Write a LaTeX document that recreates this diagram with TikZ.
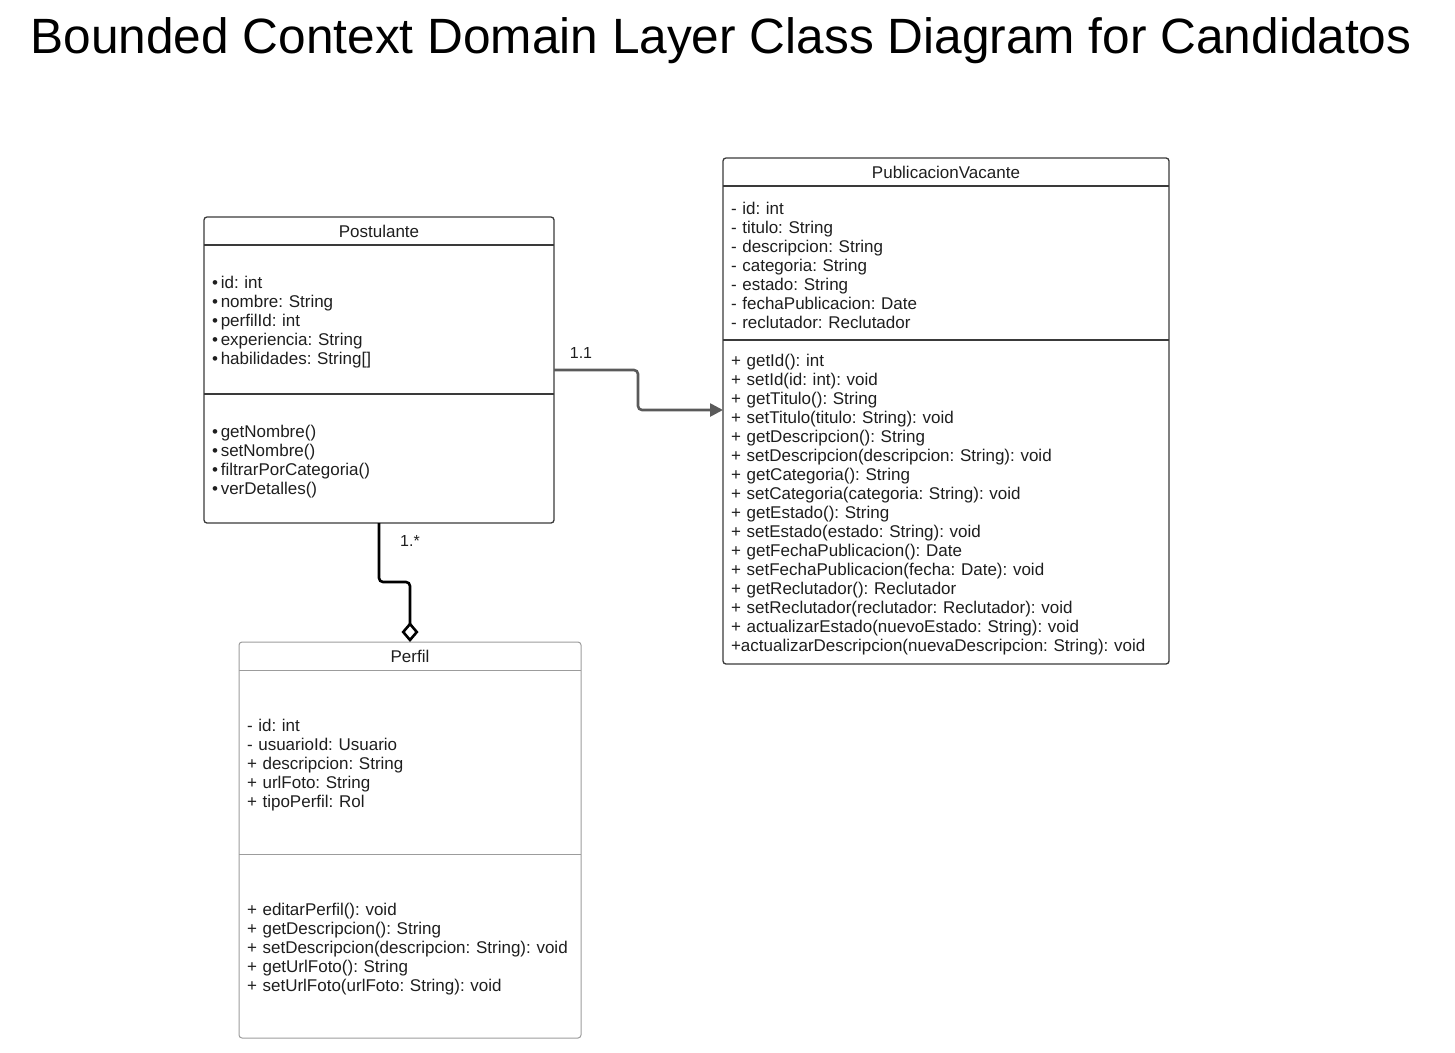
\documentclass[tikz,border=0pt]{standalone}
\usepackage{fontspec}
\setmainfont{Liberation Sans}
\usepackage{xcolor}
\usetikzlibrary{positioning,arrows.meta}
\definecolor{ink}{HTML}{1E1E1E}
\definecolor{darkline}{HTML}{3A3A3A}
\definecolor{lightline}{HTML}{9C9C9C}
\definecolor{linkgray}{HTML}{5A5A5A}
\frenchspacing

\begin{document}
\begin{tikzpicture}[x=1pt, y=-1pt,
      cls/.style={outer sep=0pt, inner xsep=8pt, inner ysep=0pt, text=ink, font=\fontsize{17}{19}\selectfont},
      head/.style={cls, align=center, minimum height=28pt},
      part/.style={cls, align=left, execute at begin node={\rule{0pt}{18pt}}},
      frame/.style={draw=#1, line width=1.3pt, rounded corners=3pt},
      divider/.style={draw=#1, line width=1.3pt},
      thin/.style={line width=1pt},
      assoc/.style={draw=linkgray, line width=2.6pt, rounded corners=4pt, -{Triangle[length=13pt, width=13pt]}},
      agg/.style={draw=black, line width=2.6pt, rounded corners=4pt, -{Diamond[open, length=20pt, width=17pt]}},
      mult/.style={text=ink, font=\fontsize{16}{18}\selectfont}
    ]
    \useasboundingbox (0,0) rectangle (1455,1052);
    \node[text=black, font=\fontsize{49.6}{56}\selectfont] (title) at (721,41) {Bounded Context Domain Layer Class Diagram for Candidatos};

    % Postulante
    \node[head, text width=334pt] (post) at (379,231) {Postulante};
    \node[part, text width=334pt, minimum height=149pt, below=0pt of post] (postattr) {\textbullet\,id: int\\\textbullet\,nombre: String\\\textbullet\,perfilId: int\\\textbullet\,experiencia: String\\\textbullet\,habilidades: String[]};
    \node[part, text width=334pt, minimum height=129pt, below=0pt of postattr] (postops) {\textbullet\,getNombre()\\\textbullet\,setNombre()\\\textbullet\,filtrarPorCategoria()\\\textbullet\,verDetalles()};
    \draw[frame=darkline] (post.north west) rectangle (postops.south east);
    \draw[divider=darkline] (postattr.north west) -- (postattr.north east);
    \draw[divider=darkline] (postops.north west) -- (postops.north east);

    % PublicacionVacante
    \node[head, text width=430pt] (pub) at (946,172) {PublicacionVacante};
    \node[part, text width=430pt, minimum height=154pt, below=0pt of pub] (pubattr) {- id: int\\- titulo: String\\- descripcion: String\\- categoria: String\\- estado: String\\- fechaPublicacion: Date\\- reclutador: Reclutador};
    \node[part, text width=430pt, minimum height=324pt, below=0pt of pubattr] (pubops) {+ getId(): int\\+ setId(id: int): void\\+ getTitulo(): String\\+ setTitulo(titulo: String): void\\+ getDescripcion(): String\\+ setDescripcion(descripcion: String): void\\+ getCategoria(): String\\+ setCategoria(categoria: String): void\\+ getEstado(): String\\+ setEstado(estado: String): void\\+ getFechaPublicacion(): Date\\+ setFechaPublicacion(fecha: Date): void\\+ getReclutador(): Reclutador\\+ setReclutador(reclutador: Reclutador): void\\+ actualizarEstado(nuevoEstado: String): void\\+actualizarDescripcion(nuevaDescripcion: String): void};
    \draw[frame=darkline] (pub.north west) rectangle (pubops.south east);
    \draw[divider=darkline] (pubattr.north west) -- (pubattr.north east);
    \draw[divider=darkline] (pubops.north west) -- (pubops.north east);

    % Perfil
    \node[head, text width=326pt] (perfil) at (410,656) {Perfil};
    \node[part, text width=326pt, minimum height=184pt, below=0pt of perfil] (perfilattr) {- id: int\\- usuarioId: Usuario\\+ descripcion: String\\+ urlFoto: String\\+ tipoPerfil: Rol};
    \node[part, text width=326pt, minimum height=184pt, below=0pt of perfilattr] (perfilops) {+ editarPerfil(): void\\+ getDescripcion(): String\\+ setDescripcion(descripcion: String): void\\+ getUrlFoto(): String\\+ setUrlFoto(urlFoto: String): void};
    \draw[frame=lightline, thin] (perfil.north west) rectangle (perfilops.south east);
    \draw[divider=lightline, thin] (perfilattr.north west) -- (perfilattr.north east);
    \draw[divider=lightline, thin] (perfilops.north west) -- (perfilops.north east);

    \draw[assoc] ([yshift=-50.5pt]postattr.east) -- ++(84,0) |- ([yshift=92pt]pubops.west);
    \draw[agg] (postops.south) -- ++(0,59) -| (perfil.north);
    \node[mult] (m1) at (581,353) {1.1};
    \node[mult] (m2) at (410,541) {1.*};
  \end{tikzpicture}
\end{document}
